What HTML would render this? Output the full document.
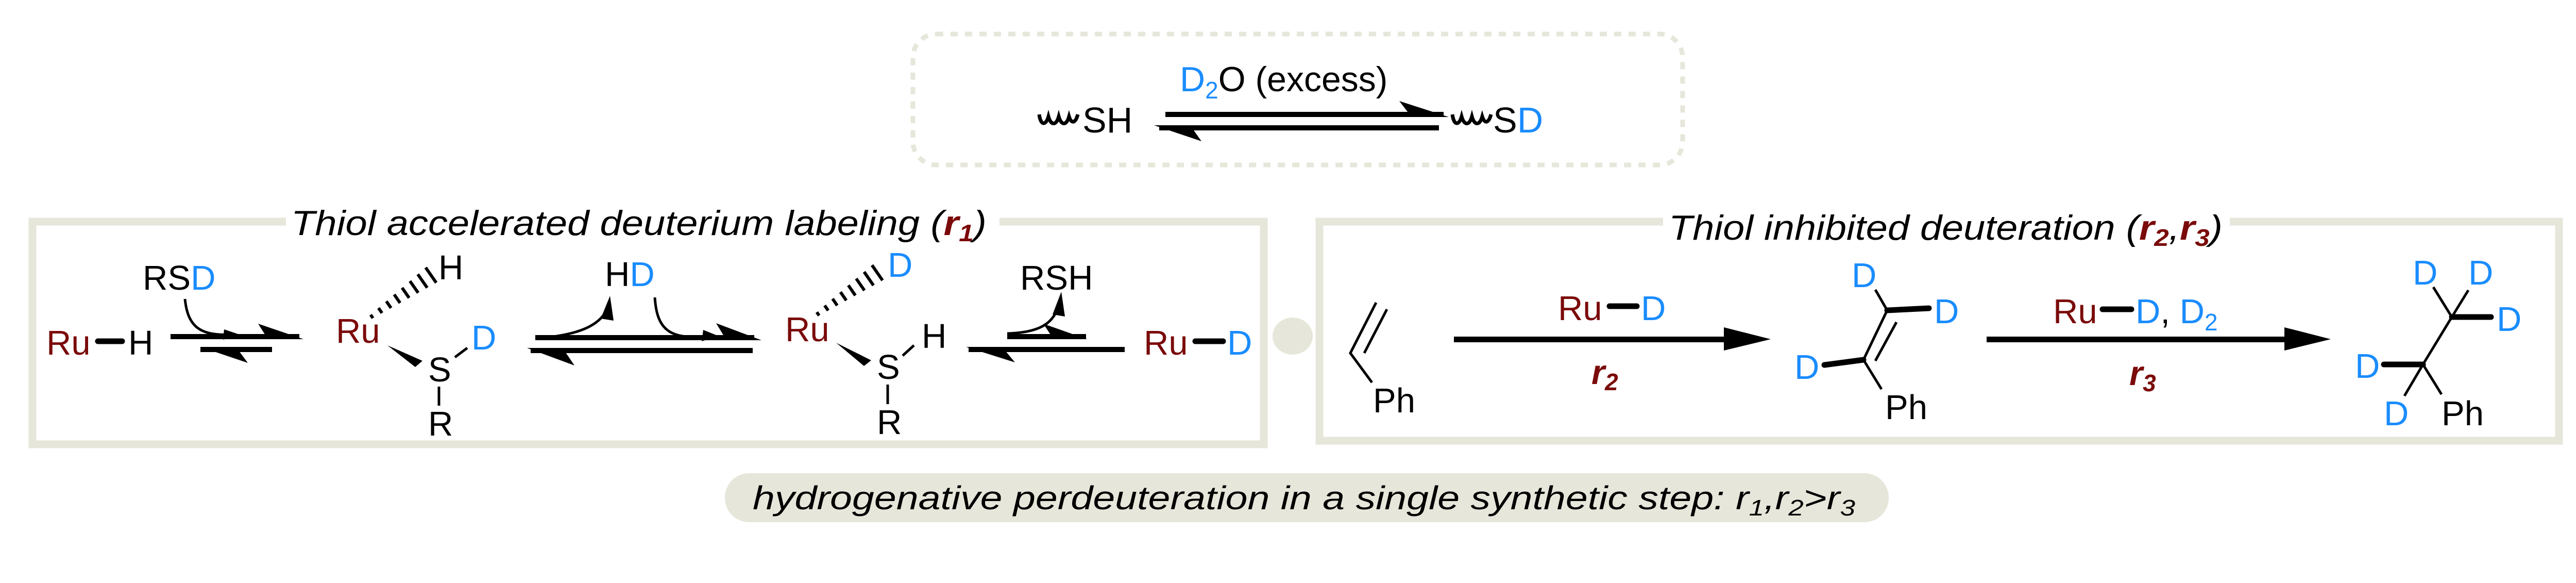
<!DOCTYPE html>
<html><head><meta charset="utf-8"><style>
html,body{margin:0;padding:0;background:#fff;}
svg{display:block;}
text{font-family:"Liberation Sans",sans-serif;}
.k{fill:#000}.r{fill:#7b0a0a}.b{fill:#1a8cff}
</style></head><body>
<svg width="5056" height="1131" viewBox="0 0 5056 1131" xmlns="http://www.w3.org/2000/svg">
<!-- top dashed box -->
<rect x="1772" y="66" width="1494" height="254" rx="45" fill="none" stroke="#e6e6da" stroke-width="9" stroke-dasharray="14,14"/>
<text x="2290" y="177" font-size="68" class="k"><tspan class="b">D</tspan><tspan font-size="46" dy="14" class="b">2</tspan><tspan dy="-14">O (excess)</tspan></text>
<path d="M2017 222 C2020 244 2030 244 2035 226 C2040 244 2050 244 2055 226 C2060 244 2070 244 2075 226 C2080 242 2088 238 2092 222" fill="none" stroke="#000" stroke-width="7"/>
<text x="2101" y="257" font-size="70" class="k">SH</text>
<path d="M2819 222 C2822 244 2832 244 2837 226 C2842 244 2852 244 2857 226 C2862 244 2872 244 2877 226 C2882 242 2890 238 2894 222" fill="none" stroke="#000" stroke-width="7"/>
<text x="2898" y="257" font-size="70" class="k">S<tspan class="b">D</tspan></text>
<rect x="2262" y="217" width="540" height="10" fill="#000"/>
<polygon points="2716,196 2812,227 2740,227" fill="#000"/>
<rect x="2250" y="243" width="543" height="10" fill="#000"/>
<polygon points="2332,274 2240,243 2310,243" fill="#000"/>

<!-- left box -->
<rect x="63" y="430" width="2390" height="432" fill="none" stroke="#e6e6da" stroke-width="15"/>
<rect x="555" y="405" width="1385" height="50" fill="#fff"/>
<text x="565" y="456" font-size="68" font-style="italic" class="k" textLength="1350" lengthAdjust="spacingAndGlyphs">Thiol accelerated deuterium labeling (<tspan class="r" font-weight="bold">r</tspan><tspan class="r" font-weight="bold" font-size="46" dy="12">1</tspan><tspan dy="-12">)</tspan></text>

<text x="90" y="688" font-size="67" class="r">Ru</text>
<line x1="190" y1="662" x2="237" y2="662" stroke="#000" stroke-width="11" stroke-linecap="round"/>
<text x="249" y="688" font-size="67" class="k">H</text>
<text x="277" y="562" font-size="67" class="k">RS<tspan class="b">D</tspan></text>
<path d="M359 580 C364 630 385 652 445 649" fill="none" stroke="#000" stroke-width="5"/>
<polygon points="435,639 465,649 433,659" fill="#000"/>
<rect x="331" y="648" width="250" height="10" fill="#000"/>
<polygon points="501,628 589,658 520,658" fill="#000"/>
<rect x="389" y="673" width="139" height="10" fill="#000"/>
<polygon points="481,704 389,673 458,673" fill="#000"/>

<text x="652" y="665" font-size="67" class="r">Ru</text>
<g transform="translate(720,615) rotate(-34.9)" stroke="#000" stroke-width="6">
<line x1="2" y1="-4" x2="2" y2="4"/><line x1="22" y1="-6" x2="22" y2="6"/><line x1="42" y1="-8" x2="42" y2="8"/><line x1="62" y1="-10" x2="62" y2="10"/><line x1="82" y1="-12" x2="82" y2="12"/><line x1="102" y1="-14" x2="102" y2="14"/><line x1="122" y1="-16" x2="122" y2="16"/><line x1="142" y1="-18" x2="142" y2="18"/>
</g>
<g transform="translate(1586,610) rotate(-34.7)" stroke="#000" stroke-width="6">
<line x1="2" y1="-4" x2="2" y2="4"/><line x1="22" y1="-6" x2="22" y2="6"/><line x1="42" y1="-8" x2="42" y2="8"/><line x1="62" y1="-10" x2="62" y2="10"/><line x1="82" y1="-12" x2="82" y2="12"/><line x1="102" y1="-14" x2="102" y2="14"/><line x1="122" y1="-16" x2="122" y2="16"/><line x1="142" y1="-18" x2="142" y2="18"/>
</g>
<text x="851" y="542" font-size="67" class="k">H</text>
<polygon points="752,670 806,712 820,700" fill="#000"/>
<text x="831" y="740" font-size="67" class="k">S</text>
<line x1="883" y1="693" x2="907" y2="675" stroke="#000" stroke-width="5"/>
<text x="915" y="678" font-size="67" class="b">D</text>
<line x1="852" y1="750" x2="852" y2="787" stroke="#000" stroke-width="5"/>
<text x="831" y="845" font-size="67" class="k">R</text>

<text x="1174" y="555" font-size="67" class="k">H<tspan class="b">D</tspan></text>
<path d="M1039 657 C1100 652 1165 640 1180 595" fill="none" stroke="#000" stroke-width="5"/>
<polygon points="1166,618 1184,574 1191,622" fill="#000"/>
<path d="M1271 577 C1275 640 1300 660 1375 652" fill="none" stroke="#000" stroke-width="5"/>
<polygon points="1365,640 1395,652 1362,662" fill="#000"/>
<rect x="1039" y="650" width="425" height="10" fill="#000"/>
<polygon points="1390,627 1478,660 1410,660" fill="#000"/>
<rect x="1030" y="675" width="431" height="10" fill="#000"/>
<polygon points="1115,709 1023,675 1092,675" fill="#000"/>

<text x="1524" y="662" font-size="67" class="r">Ru</text>
<text x="1723" y="537" font-size="67" class="b">D</text>
<polygon points="1623,665 1677,710 1691,699" fill="#000"/>
<text x="1702" y="735" font-size="67" class="k">S</text>
<line x1="1752" y1="690" x2="1774" y2="670" stroke="#000" stroke-width="5"/>
<text x="1789" y="675" font-size="67" class="k">H</text>
<line x1="1723" y1="746" x2="1723" y2="784" stroke="#000" stroke-width="5"/>
<text x="1702" y="842" font-size="67" class="k">R</text>

<text x="1980" y="562" font-size="67" class="k">RSH</text>
<path d="M1955 647 C2030 645 2050 620 2058 580" fill="none" stroke="#000" stroke-width="5"/>
<polygon points="2043,610 2060,566 2067,614" fill="#000"/>
<rect x="1955" y="648" width="153" height="10" fill="#000"/>
<polygon points="2025,628 2110,658 2045,658" fill="#000"/>
<rect x="1880" y="673" width="303" height="10" fill="#000"/>
<polygon points="1970,703 1875,673 1945,673" fill="#000"/>
<text x="2220" y="688" font-size="67" class="r">Ru</text>
<line x1="2320" y1="662" x2="2374" y2="662" stroke="#000" stroke-width="11" stroke-linecap="round"/>
<text x="2382" y="688" font-size="67" class="b">D</text>

<ellipse cx="2509" cy="652" rx="39" ry="36" fill="#e6e6da"/>

<!-- right box -->
<rect x="2561" y="430" width="2406" height="425" fill="none" stroke="#e6e6da" stroke-width="15"/>
<rect x="3228" y="405" width="1100" height="50" fill="#fff"/>
<text x="3239" y="465" font-size="68" font-style="italic" class="k" textLength="1075" lengthAdjust="spacingAndGlyphs">Thiol inhibited deuteration (<tspan class="r" font-weight="bold">r</tspan><tspan class="r" font-weight="bold" font-size="46" dy="12">2</tspan><tspan dy="-12">,</tspan><tspan class="r" font-weight="bold">r</tspan><tspan class="r" font-weight="bold" font-size="46" dy="12">3</tspan><tspan dy="-12">)</tspan></text>

<g stroke="#000" stroke-width="5" fill="none">
<polyline points="2671,587 2621,685 2663,742"/>
<line x1="2692" y1="600" x2="2648" y2="685"/>
<polyline points="3640,562 3663,602 3617,698 3652,755"/>
<line x1="3681" y1="625" x2="3640" y2="700"/>
<polyline points="4723,557 4759,615 4703,707 4667,768"/>
<line x1="4791" y1="563" x2="4759" y2="615"/>
<line x1="4703" y1="707" x2="4739" y2="765"/>
</g>
<g stroke="#000" stroke-width="11" stroke-linecap="round">
<line x1="3663" y1="602" x2="3744" y2="598"/>
<line x1="3617" y1="698" x2="3541" y2="708"/>
<line x1="4759" y1="615" x2="4835" y2="615"/>
<line x1="4703" y1="707" x2="4627" y2="707"/>
</g>
<text x="2665" y="800" font-size="67" class="k">Ph</text>
<rect x="2822" y="653" width="560" height="11" fill="#000"/>
<polygon points="3346,635 3437,658 3346,680" fill="#000"/>
<text x="3024" y="621" font-size="67" class="r">Ru</text>
<line x1="3124" y1="594" x2="3177" y2="594" stroke="#000" stroke-width="11" stroke-linecap="round"/>
<text x="3185" y="621" font-size="67" class="b">D</text>
<text x="3089" y="745" font-size="67" font-style="italic" font-weight="bold" class="r">r<tspan font-size="46" dy="12">2</tspan></text>

<text x="3594" y="557" font-size="67" class="b">D</text>
<text x="3754" y="627" font-size="67" class="b">D</text>
<text x="3483" y="735" font-size="67" class="b">D</text>
<text x="3659" y="813" font-size="67" class="k">Ph</text>

<rect x="3856" y="653" width="620" height="11" fill="#000"/>
<polygon points="4434,635 4524,658 4434,680" fill="#000"/>
<text x="3985" y="627" font-size="67" class="r">Ru</text>
<line x1="4081" y1="600" x2="4137" y2="600" stroke="#000" stroke-width="11" stroke-linecap="round"/>
<text x="4145" y="627" font-size="67" class="b">D<tspan class="k">, </tspan>D<tspan font-size="46" dy="14">2</tspan></text>
<text x="4133" y="747" font-size="67" font-style="italic" font-weight="bold" class="r">r<tspan font-size="46" dy="12">3</tspan></text>

<text x="4683" y="552" font-size="67" class="b">D</text>
<text x="4791" y="552" font-size="67" class="b">D</text>
<text x="4846" y="642" font-size="67" class="b">D</text>
<text x="4571" y="733" font-size="67" class="b">D</text>
<text x="4627" y="825" font-size="67" class="b">D</text>
<text x="4739" y="825" font-size="67" class="k">Ph</text>

<!-- bottom pill -->
<rect x="1407" y="918" width="2259" height="95" rx="47" fill="#e6e6da"/>
<text x="1461" y="988" font-size="64" font-style="italic" class="k" textLength="2140" lengthAdjust="spacingAndGlyphs">hydrogenative perdeuteration in a single synthetic step: r<tspan font-size="44" dy="12">1</tspan><tspan dy="-12">,r</tspan><tspan font-size="44" dy="12">2</tspan><tspan dy="-12">&gt;r</tspan><tspan font-size="44" dy="12">3</tspan></text>
</svg>
</body></html>
